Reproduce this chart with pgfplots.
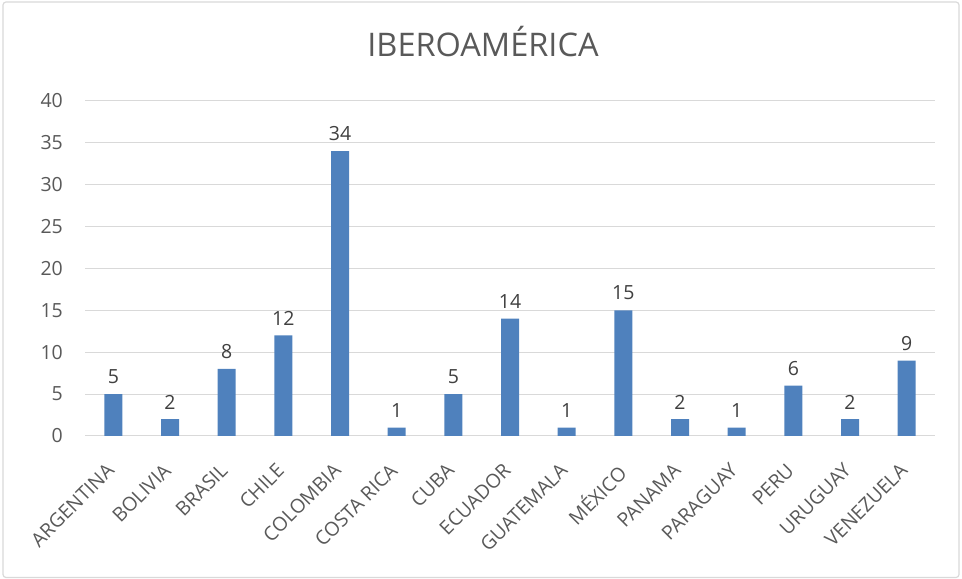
\documentclass[border=0pt]{standalone}
\usepackage{fontspec}
\setmainfont{Open Sans}
\usepackage{pgfplots}
\pgfplotsset{compat=1.18}
\definecolor{barblue}{HTML}{4F81BD}
\definecolor{gridgray}{HTML}{D9D9D9}
\definecolor{ticktext}{HTML}{595959}
\definecolor{labtext}{HTML}{404040}
\begin{document}
\begin{tikzpicture}
\useasboundingbox (0,0) rectangle (962bp,579bp);
\draw[gridgray, line width=1.2bp, rounded corners=3bp] (3bp,1.5bp) rectangle (959bp,577bp);
\node[text=ticktext, font=\fontsize{32.5bp}{38bp}\selectfont, anchor=base, inner sep=0pt] at (483bp,522bp) {IBEROAMÉRICA};
\begin{axis}[
  at={(85bp,143bp)}, anchor=south west,
  scale only axis, width=850bp, height=335bp,
  ymin=0, ymax=40, ytick={0,5,...,40},
  xmin=-0.5, xmax=14.5,
  xtick={0,...,14},
  xticklabels={ARGENTINA,BOLIVIA,BRASIL,CHILE,COLOMBIA,COSTA RICA,CUBA,ECUADOR,GUATEMALA,MÉXICO,PANAMA,PARAGUAY,PERU,URUGUAY,VENEZUELA},
  x tick label style={xshift=-8bp, yshift=-26bp, rotate=45, anchor=north east, inner sep=0pt},
  ymajorgrids, grid style={gridgray, line width=1bp},
  axis line style={draw=none},
  axis x line*=bottom, axis y line*=left,
  major tick length=0pt,
  tick label style={text=ticktext, font=\fontsize{19.5bp}{23bp}\selectfont},
  y tick label style={anchor=east, inner sep=0pt, xshift=-22bp},
  /pgf/number format/assume math mode=true,
  ybar, bar width=18bp,
  nodes near coords,
  every node near coord/.append style={text=labtext, font=\fontsize{19.5bp}{23bp}\selectfont, anchor=south, inner sep=0pt, yshift=10bp},
  clip=false,
]
\draw[gridgray, line width=1bp] (axis cs:-0.5,0) -- (axis cs:14.5,0);
\addplot[fill=barblue, draw=none] coordinates {
(0,5) (1,2) (2,8) (3,12) (4,34) (5,1) (6,5) (7,14) (8,1) (9,15) (10,2) (11,1) (12,6) (13,2) (14,9)
};
\end{axis}
\end{tikzpicture}
\end{document}
